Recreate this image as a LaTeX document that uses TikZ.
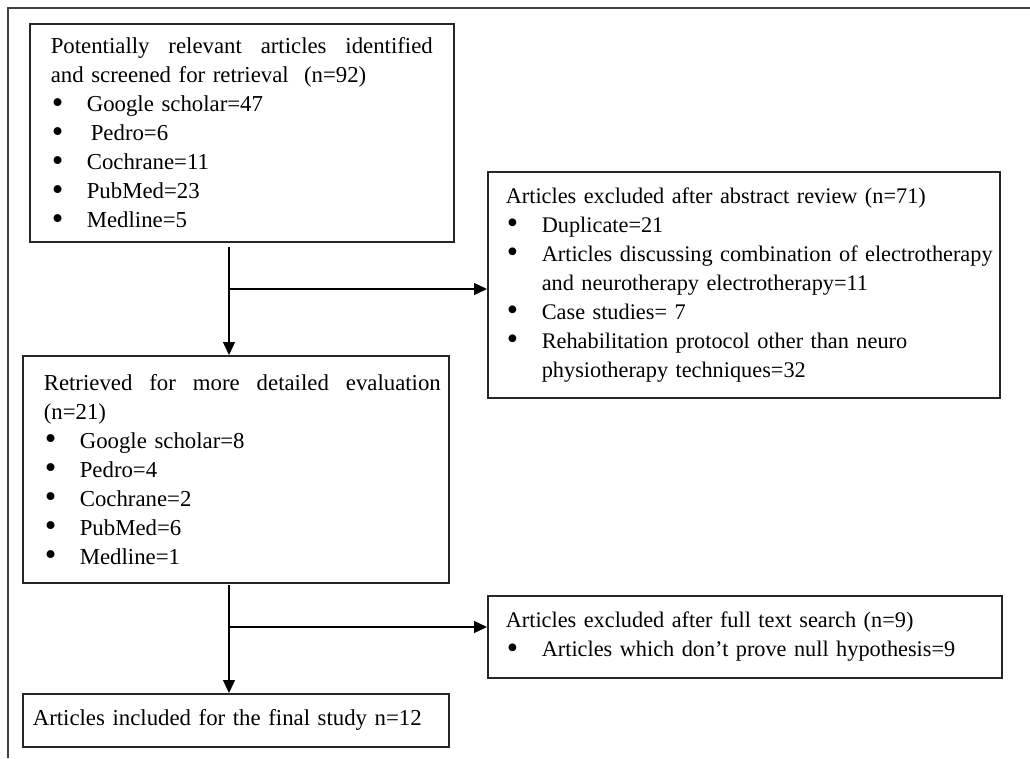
\documentclass[tikz,border=0pt]{standalone}
\usepackage{fontspec}
\setmainfont{Liberation Serif}
\usetikzlibrary{arrows.meta}
\newcommand\itm[1]{\mbox{\makebox[36pt][l]{\hspace{1pt}\smash{\raisebox{-1.6pt}{\scalebox{1.45}{•}}}}#1}}
\newcommand\spread[2]{\makebox[#1][l]{#2}}
\begin{document}
\begin{tikzpicture}[x=1pt,y=-1pt,
  box/.style={draw=black!85, line width=1.6pt, anchor=north west, inner ysep=0pt, align=left,
    font=\fontsize{22.8}{29}\selectfont},
  narrow/.style={font=\fontsize{22.3}{29}\selectfont},
  arr/.style={line width=1.3pt, -{Triangle[length=13pt,width=12pt]}}]
\useasboundingbox (0,0) rectangle (1030,758);
\draw[line width=2pt, black!75] (8,758) -- (8,8) -- (1030,8);

\node[box, text width=382pt, inner xsep=21pt, minimum height=218pt] (b1) at (29,23)
 {\spread{382pt}{Potentially\hfill relevant\hfill articles\hfill identified}\\
  and screened for retrieval\ \ (n=92)\\
  \itm{Google scholar=47}\\
  \itm{\hspace{4pt}Pedro=6}\\
  \itm{Cochrane=11}\\
  \itm{PubMed=23}\\
  \itm{Medline=5}};

\node[box, narrow, text width=476pt, inner xsep=18pt, minimum height=226pt] (b3) at (487,171)
 {\mbox{Articles excluded after abstract review (n=71)}\\
  \itm{Duplicate=21}\\
  \itm{Articles discussing combination of electrotherapy}\\
  \mbox{\hspace*{36pt}and neurotherapy electrotherapy=11}\\
  \itm{Case studies= 7}\\
  \itm{Rehabilitation protocol other than neuro}\\
  \mbox{\hspace*{36pt}physiotherapy techniques=32}};

\node[box, text width=384pt, inner xsep=21pt, minimum height=227pt] (b2) at (22,355)
 {\spread{397pt}{Retrieved\hfill for\hfill more\hfill detailed\hfill evaluation}\\
  (n=21)\\
  \itm{Google scholar=8}\\
  \itm{Pedro=4}\\
  \itm{Cochrane=2}\\
  \itm{PubMed=6}\\
  \itm{Medline=1}};

\node[box, narrow, text width=478pt, inner xsep=18pt, minimum height=82pt] (b5) at (487,595)
 {\mbox{Articles excluded after full text search (n=9)}\\
  \itm{Articles which don’t prove null hypothesis=9}};

\node[box, text width=406pt, inner xsep=10pt, minimum height=53pt] (b4) at (22,693)
 {\mbox{Articles included for the final study n=12}};

\coordinate (s1) at (229,247);
\coordinate (j1) at (229,289);
\coordinate (s2) at (229,585);
\coordinate (j2) at (229,627);
\draw[arr] (s1) -- (s1 |- b2.north);
\draw[arr] (j1) -- (j1 -| b3.west);
\draw[arr] (s2) -- (s2 |- b4.north);
\draw[arr] (j2) -- (j2 -| b5.west);
\end{tikzpicture}
\end{document}
